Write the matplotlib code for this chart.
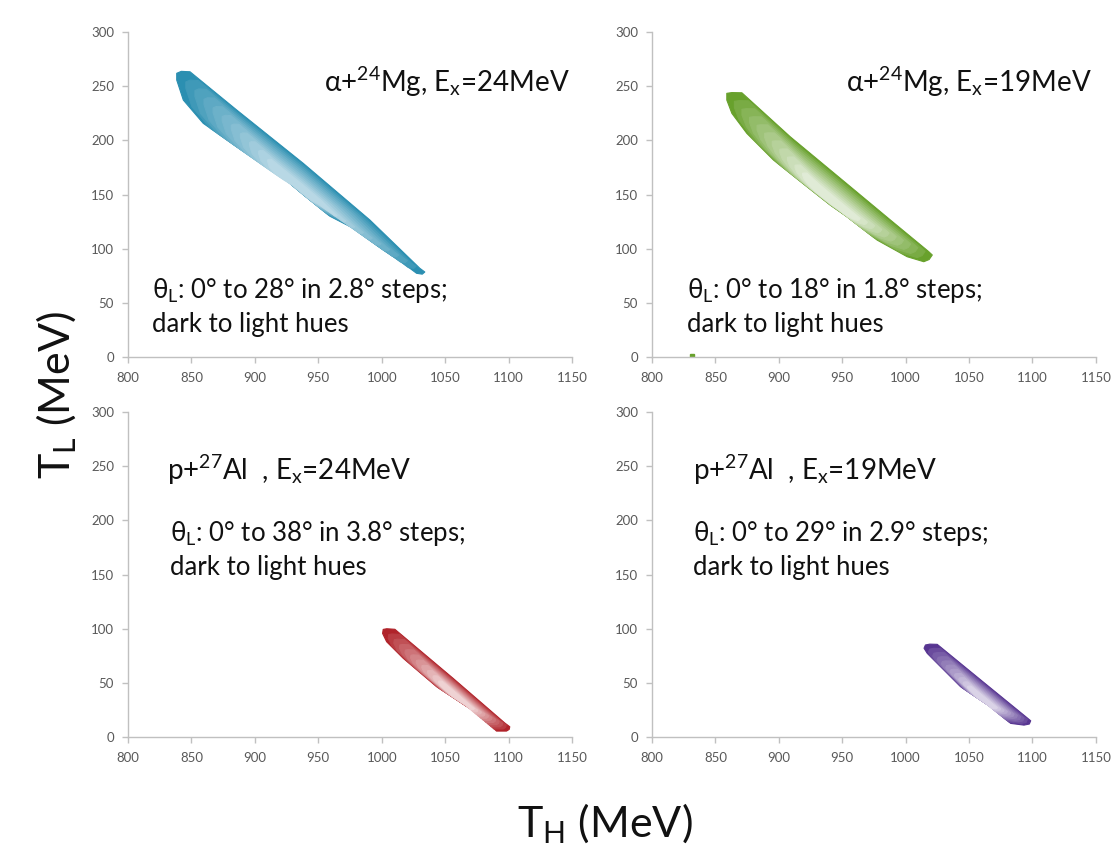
import numpy as np
import matplotlib.pyplot as plt
from matplotlib.patches import Polygon
from matplotlib.colors import to_rgb

plt.rcParams['font.family'] = ['Lato', 'Open Sans', 'DejaVu Sans']
plt.rcParams['mathtext.fontset'] = 'custom'
plt.rcParams['mathtext.rm'] = 'Lato'
plt.rcParams['mathtext.it'] = 'Lato:italic'

# Outer boundary of each kinematic band (T_H, T_L) in MeV, going round the shape
mg24_outline_th = [838.4, 842.0, 848.9, 885.7, 938.1, 990.7, 1030.0, 1034.0, 1032.0, 1027.5,
                   1017.0, 1001.2, 980.2, 959.2, 938.1, 911.9, 885.7, 859.3, 843.6, 838.4]
mg24_outline_tl = [262.0, 263.8, 263.4, 228.1, 178.9, 126.5, 82.0, 78.5, 76.5, 77.3,
                   86.5, 98.8, 117.3, 130.0, 150.0, 175.7, 194.2, 215.8, 237.3, 255.8]
mg19_outline_th = [859.0, 863.0, 870.9, 909.0, 956.4, 988.0, 1018.0, 1021.0, 1018.5, 1014.3,
                   1001.2, 977.5, 953.8, 940.6, 922.2, 895.8, 874.8, 863.0, 859.0]
mg19_outline_tl = [243.5, 244.2, 244.0, 203.4, 157.3, 126.5, 97.5, 94.2, 90.0, 88.0,
                   92.6, 108.0, 129.5, 140.3, 157.3, 181.9, 206.5, 225.0, 237.3]
al24_outline_th = [1001.2, 1004.0, 1010.4, 1056.3, 1097.0, 1101.0, 1100.5, 1098.4, 1090.5,
                   1077.4, 1043.3, 1017.0, 1003.9, 1000.7]
al24_outline_tl = [99.4, 100.0, 99.5, 54.2, 13.0, 9.5, 7.0, 5.5, 5.5, 20.3, 46.5, 72.7, 88.0, 95.7]
al19_outline_th = [1015.6, 1019.0, 1024.9, 1061.7, 1095.5, 1098.6, 1097.5, 1093.3, 1082.8,
                   1067.0, 1043.3, 1027.5, 1017.0, 1014.5]
al19_outline_tl = [85.0, 85.8, 85.6, 50.3, 18.0, 15.0, 12.0, 11.0, 12.6, 28.0, 46.5, 65.0, 77.3, 82.0]

# Point on the lower edge where the largest angles sit (lightest hue)
mg24_core = (938, 151)
mg19_core = (942, 141)
al24_core = (1062, 33)
al19_core = (1062, 32)

# Emission angle theta_L: 0 .. max in ten equal steps
theta_max = [28.0, 18.0, 38.0, 29.0]
n_steps = 10

titles = [r'α+$\mathregular{^{24}}$Mg, E$\mathregular{_x}$=24MeV',
          r'α+$\mathregular{^{24}}$Mg, E$\mathregular{_x}$=19MeV',
          r'p+$\mathregular{^{27}}$Al  , E$\mathregular{_x}$=24MeV',
          r'p+$\mathregular{^{27}}$Al  , E$\mathregular{_x}$=19MeV']
notes = [r'θ$\mathregular{_L}$: 0° to 28° in 2.8° steps;' + '\ndark to light hues',
         r'θ$\mathregular{_L}$: 0° to 18° in 1.8° steps;' + '\ndark to light hues',
         r'θ$\mathregular{_L}$: 0° to 38° in 3.8° steps;' + '\ndark to light hues',
         r'θ$\mathregular{_L}$: 0° to 29° in 2.9° steps;' + '\ndark to light hues']

dark = ['#2b8fb1', '#68a12c', '#b0232a', '#573591']
light = ['#b8d8e5', '#e0ebd6', '#efd2d3', '#dad3e7']

outlines = [(mg24_outline_th, mg24_outline_tl), (mg19_outline_th, mg19_outline_tl),
            (al24_outline_th, al24_outline_tl), (al19_outline_th, al19_outline_tl)]
cores = [mg24_core, mg19_core, al24_core, al19_core]

fig = plt.figure(figsize=(11.16, 8.46), dpi=100)

ax_w, ax_h = 0.3978, 0.384
positions = [(0.1147, 0.578), (0.5842, 0.578), (0.1147, 0.1288), (0.5842, 0.1288)]
title_xy = [(1148, 245), (1147, 245), (831, 237), (832, 237)]
title_ha = ['right', 'right', 'left', 'left']
note_xy = [(819, 23.4), (828, 23.4), (833, 149.6), (832, 149.6)]

axes = []
for i, (x0, y0) in enumerate(positions):
    ax = fig.add_axes([x0, y0, ax_w, ax_h])
    axes.append(ax)
    th, tl = outlines[i]
    pts = np.column_stack([th, tl])
    cx, cy = cores[i]
    c0 = np.array(to_rgb(dark[i]))
    c1 = np.array(to_rgb(light[i]))
    # nested regions, one per angle step, shrinking towards the core
    for k in range(n_steps + 1):
        f = k / n_steps
        s = 1.0 - 0.72 * f
        p = np.column_stack([cx + s * (pts[:, 0] - cx), cy + s * (pts[:, 1] - cy)])
        col = c0 + (c1 - c0) * f ** 0.85
        ax.add_patch(Polygon(p, closed=True, facecolor=col, edgecolor=col, lw=0.8,
                             joinstyle='round'))

    ax.set_xlim(800, 1150)
    ax.set_ylim(0, 300)
    ax.set_xticks(np.arange(800, 1151, 50))
    ax.set_yticks(np.arange(0, 301, 50))
    for side in ['top', 'right']:
        ax.spines[side].set_visible(False)
    for side in ['left', 'bottom']:
        ax.spines[side].set_color('#c0c0c0')
        ax.spines[side].set_linewidth(1.0)
    ax.tick_params(axis='both', colors='#c0c0c0', labelcolor='#595959',
                   labelsize=9.5, length=4, width=1.0, direction='out')
    ax.tick_params(axis='x', pad=7)
    ax.tick_params(axis='y', pad=6)

    ax.text(title_xy[i][0], title_xy[i][1], titles[i], ha=title_ha[i], va='baseline',
            fontsize=20, color='#111111')
    ax.text(note_xy[i][0], note_xy[i][1], notes[i], ha='left', va='baseline',
            fontsize=18.5, color='#111111', linespacing=1.35)

# stray point at the bottom of the 19 MeV alpha panel
axes[1].plot([831.6], [1.0], 's', ms=3, color='#68a12c')

fig.text(0.051, 0.533, r'T$\mathregular{_L}$ (MeV)', rotation=90, ha='center', va='center',
         fontsize=31, color='#111111')
fig.text(0.542, 0.0106, r'T$\mathregular{_H}$ (MeV)', ha='center', va='baseline',
         fontsize=31, color='#111111')

fig.savefig('out.png', dpi=100, facecolor='white')
